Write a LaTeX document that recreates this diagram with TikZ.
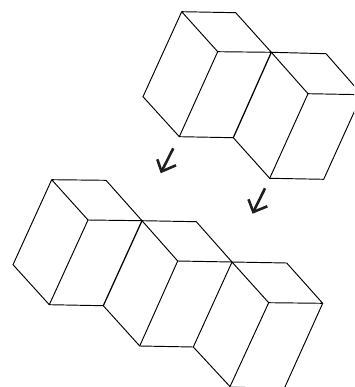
\documentclass[tikz,border=0pt]{standalone}
\tikzset{
  edge/.style={draw=black,line width=0.95pt,line join=round,line cap=round},
  heavy/.style={edge,line width=1.25pt},
  faint edge/.style={draw=black!22,line width=0.9pt},
  mark arrow/.style={draw=black!88,line width=2.6pt,line join=miter,line cap=butt}
}
\begin{document}
\begin{tikzpicture}[x=1pt,y=-1pt]
\useasboundingbox (0,0) rectangle (354,387);
\clip (0,0) rectangle (354,387);
% upper group
\coordinate (a1) at (181.7,11.7);
\coordinate (b1) at (235.7,12.7);
\coordinate (c1) at (271.3,52.3);
\coordinate (d1) at (217.7,51.7);
\coordinate (e1) at (143,96.7);
\coordinate (f1) at (179.3,136.7);
\coordinate (g1) at (233.3,137.7);
\coordinate (h1) at (269.7,178.3);
\coordinate (i1) at (323.7,179.3);
\coordinate (j1) at (308,93.7);
\coordinate (k1) at (326,53.7);
\coordinate (l1) at (362,94.7);
\draw[edge] (e1) -- (a1) -- (b1) -- (c1) -- (d1) -- (a1);
\draw[edge] (e1) -- (f1) -- (g1) -- (h1) -- (i1) -- (l1) -- (k1) -- (c1) -- (j1) -- (l1);
\draw[edge] (d1) -- (f1);
\draw[edge] (j1) -- (h1);
\draw[heavy] (c1) -- (g1);
% lower group
\coordinate (a2) at (51.7,179.7);
\coordinate (b2) at (106,180.3);
\coordinate (c2) at (142,220.7);
\coordinate (d2) at (88,220);
\coordinate (e2) at (13,264.7);
\coordinate (f2) at (49.3,304.7);
\coordinate (g2) at (103.3,305.7);
\coordinate (h2) at (139.7,346);
\coordinate (i2) at (193.3,347);
\coordinate (j2) at (177.7,261);
\coordinate (k2) at (196.3,221.7);
\coordinate (m2) at (232,262);
\coordinate (n2) at (230,386.6);
\coordinate (n3) at (245,386.8);
\coordinate (o2) at (268.7,302.7);
\coordinate (p2) at (286.7,263);
\coordinate (q2) at (322.7,303.3);
\coordinate (r2) at (284,389);
\draw[faint edge] (n2) -- (n3);
\draw[edge] (e2) -- (a2) -- (b2) -- (c2) -- (d2) -- (a2);
\draw[edge] (e2) -- (f2) -- (g2) -- (h2) -- (i2) -- (n2) -- (o2) -- (m2) -- (i2);
\draw[edge] (d2) -- (f2);
\draw[edge] (c2) -- (j2) -- (h2);
\draw[edge] (c2) -- (k2) -- (m2) -- (p2) -- (q2) -- (o2);
\draw[edge] (q2) -- (r2);
\draw[edge] (j2) -- (m2);
\draw[heavy] (c2) -- (g2);
% small arrows
\coordinate (s1) at (173.3,148.3);
\coordinate (t1) at (161.5,171.5);
\coordinate (u1) at (157.3,159.3);
\coordinate (v1) at (176,165.3);
\draw[mark arrow] (s1) -- (t1);
\draw[mark arrow] (u1) -- (t1) -- (v1);
\coordinate (s2) at (265,188.3);
\coordinate (t2) at (253.3,212);
\coordinate (u2) at (248.5,199.3);
\coordinate (v2) at (267.3,206.3);
\draw[mark arrow] (s2) -- (t2);
\draw[mark arrow] (u2) -- (t2) -- (v2);
\end{tikzpicture}
\end{document}
